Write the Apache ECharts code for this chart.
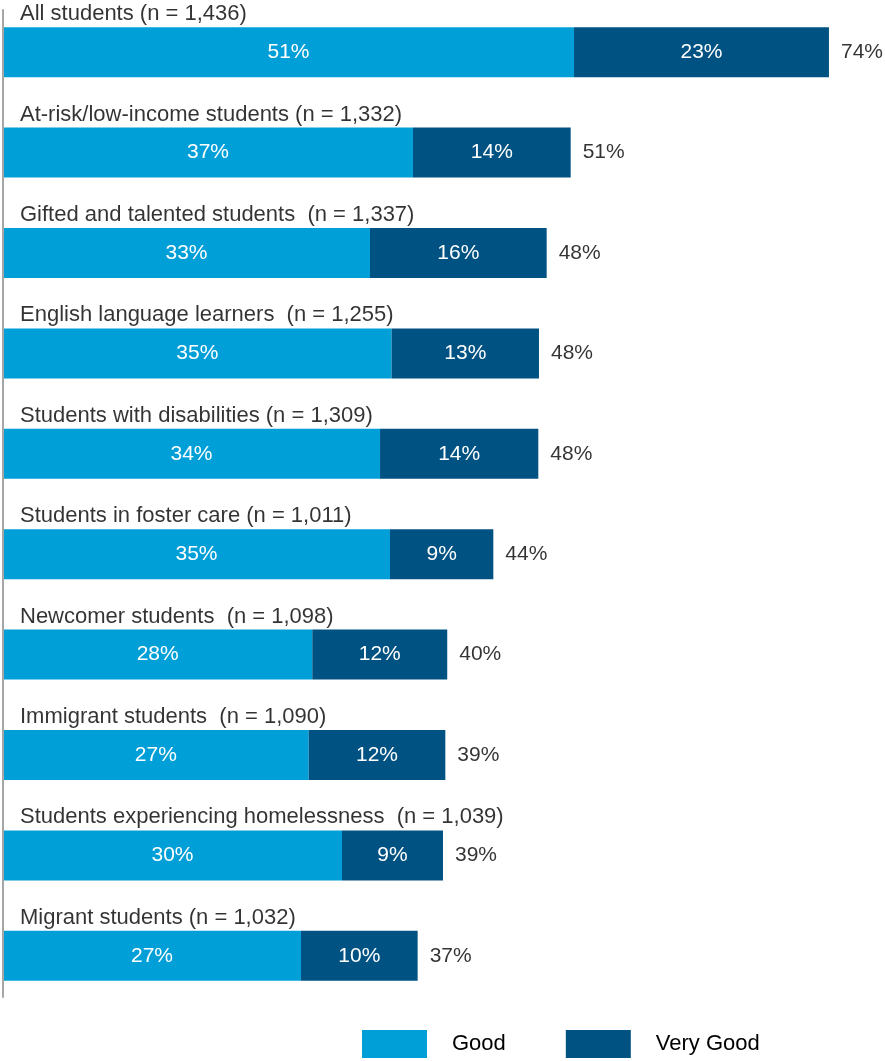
<!DOCTYPE html>
<html>
<head>
<meta charset="utf-8">
<script src="https://cdn.jsdelivr.net/npm/echarts@6/dist/echarts.min.js"></script>
<style>html,body{margin:0;padding:0;background:#fff;}#c{width:885px;height:1061px;}</style>
</head>
<body>
<div id="c"></div>
<script>
const categories = [
  "All students (n = 1,436)",
  "At-risk/low-income students (n = 1,332)",
  "Gifted and talented students  (n = 1,337)",
  "English language learners  (n = 1,255)",
  "Students with disabilities (n = 1,309)",
  "Students in foster care (n = 1,011)",
  "Newcomer students  (n = 1,098)",
  "Immigrant students  (n = 1,090)",
  "Students experiencing homelessness  (n = 1,039)",
  "Migrant students (n = 1,032)"
];
// bar lengths (labels show them rounded)
const good = [51.16, 36.73, 32.88, 34.82, 33.78, 34.67, 27.71, 27.39, 30.37, 26.70];
const veryGood = [22.84, 14.13, 15.83, 13.20, 14.18, 9.26, 12.09, 12.24, 9.05, 10.45];
const totals = [74, 51, 48, 48, 48, 44, 40, 39, 39, 37];
const seriesNames = ["Good", "Very Good"];

const FONT = '"Liberation Sans", Arial, sans-serif';
const chart = echarts.init(document.getElementById('c'), null, {renderer: 'canvas'});
chart.setOption({
  animation: false,
  backgroundColor: '#ffffff',
  textStyle: {fontFamily: FONT},
  grid: [
    {left: 3, top: 2, width: 870.6, height: 1004, containLabel: false},
    {left: 3, top: 10, width: 870.6, height: 987, containLabel: false}
  ],
  legend: {
    data: seriesNames,
    left: 362, top: 1030, padding: 0,
    icon: 'rect', itemWidth: 65, itemHeight: 28, itemGap: 60,
    textStyle: {fontFamily: FONT, fontSize: 22, color: '#000', padding: [0, 0, 0, 20]}
  },
  xAxis: [
    {type: 'value', min: 0, max: 78, show: false, gridIndex: 0},
    {type: 'value', min: 0, max: 78, show: false, gridIndex: 1}
  ],
  yAxis: [
    {
      type: 'category', data: categories, inverse: true, gridIndex: 0,
      axisLine: {show: false},
      axisTick: {show: false},
      axisLabel: {show: false}
    },
    {
      type: 'value', gridIndex: 1, min: 0, max: 1,
      axisLine: {show: true, lineStyle: {color: '#a6a6a6', width: 2}},
      axisTick: {show: false}, axisLabel: {show: false}, splitLine: {show: false},
      z: 10
    }
  ],
  series: [
    {
      name: seriesNames[0], type: 'bar', stack: 'total', data: good, barWidth: 50,
      itemStyle: {color: '#009fd8'},
      label: {show: true, position: 'inside', color: '#fff', fontSize: 21, fontFamily: FONT,
        formatter: p => Math.round(p.value) + '%'}
    },
    {
      name: seriesNames[1], type: 'bar', stack: 'total', data: veryGood, barWidth: 50,
      itemStyle: {color: '#005282'},
      label: {show: true, position: 'inside', color: '#fff', fontSize: 21, fontFamily: FONT,
        formatter: p => Math.round(p.value) + '%'}
    },
    {
      name: 'Total', type: 'scatter', symbolSize: 0,
      data: totals.map((t, i) => [good[i] + veryGood[i], categories[i]]),
      label: {show: true, position: 'right', distance: 12, color: '#000', fontSize: 21, fontFamily: FONT,
        formatter: p => totals[p.dataIndex] + '%'},
      silent: true
    },
    {
      name: 'Category', type: 'scatter', symbolSize: 0,
      data: categories.map(c => [0, c]),
      label: {show: true, position: 'right', distance: 0, offset: [17, -38], color: '#000', fontSize: 22, fontFamily: FONT,
        formatter: p => p.value[1]},
      silent: true
    }
  ]
});
</script>
</body>
</html>
